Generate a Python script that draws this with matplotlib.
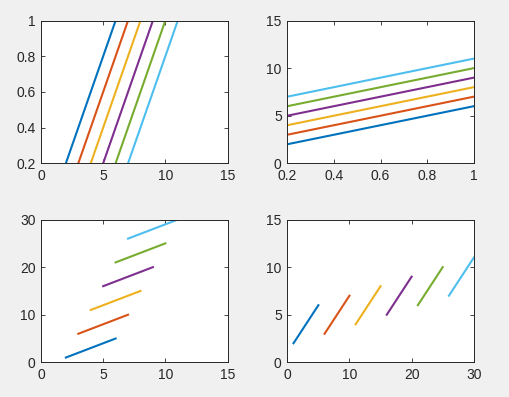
import numpy as np
import matplotlib.pyplot as plt

# data
t = [0.2, 0.4, 0.6, 0.8, 1.0]
Y = np.array([[2, 3, 4, 5, 6, 7],
              [3, 4, 5, 6, 7, 8],
              [4, 5, 6, 7, 8, 9],
              [5, 6, 7, 8, 9, 10],
              [6, 7, 8, 9, 10, 11]])
X = np.array([[1, 6, 11, 16, 21, 26],
              [2, 7, 12, 17, 22, 27],
              [3, 8, 13, 18, 23, 28],
              [4, 9, 14, 19, 24, 29],
              [5, 10, 15, 20, 25, 30]])

colors = ['#0072BD', '#D95319', '#EDB120', '#7E2F8E', '#77AC30', '#4DBEEE']

plt.rcParams['font.family'] = ['Liberation Sans', 'DejaVu Sans']
fig = plt.figure(figsize=(5.1, 3.97), dpi=100, facecolor='#F0F0F0')

L = [0.0804, 0.5633]
B = [0.5887, 0.0874]
W, H = 0.3657, 0.3595

def style(ax):
    ax.tick_params(direction='in', top=True, right=True, length=3, width=0.6,
                   labelsize=10, colors='#262626', pad=4)
    for s in ax.spines.values():
        s.set_color('#262626')
        s.set_linewidth(0.7)

# top left: plot(Y, t)
ax = fig.add_axes([L[0], B[0], W, H])
for k in range(6):
    ax.plot(Y[:, k], t, color=colors[k], lw=1.5)
ax.set_xlim(0, 15)
ax.set_ylim(0.2, 1)
ax.set_xticks([0, 5, 10, 15])
ax.set_yticks([0.2, 0.4, 0.6, 0.8, 1.0])
ax.set_yticklabels(['0.2', '0.4', '0.6', '0.8', '1'])
style(ax)

# top right: plot(t, Y)
ax = fig.add_axes([L[1], B[0], W, H])
for k in range(6):
    ax.plot(t, Y[:, k], color=colors[k], lw=1.5)
ax.set_xlim(0.2, 1)
ax.set_ylim(0, 15)
ax.set_xticks([0.2, 0.4, 0.6, 0.8, 1.0])
ax.set_xticklabels(['0.2', '0.4', '0.6', '0.8', '1'])
ax.set_yticks([0, 5, 10, 15])
style(ax)

# bottom left: plot(Y, X)
ax = fig.add_axes([L[0], B[1], W, H])
for k in range(6):
    ax.plot(Y[:, k], X[:, k], color=colors[k], lw=1.5)
ax.set_xlim(0, 15)
ax.set_ylim(0, 30)
ax.set_xticks([0, 5, 10, 15])
ax.set_yticks([0, 10, 20, 30])
style(ax)

# bottom right: plot(X, Y)
ax = fig.add_axes([L[1], B[1], W, H])
for k in range(6):
    ax.plot(X[:, k], Y[:, k], color=colors[k], lw=1.5)
ax.set_xlim(0, 30)
ax.set_ylim(0, 15)
ax.set_xticks([0, 10, 20, 30])
ax.set_yticks([0, 5, 10, 15])
style(ax)

fig.savefig('out.png', dpi=100, facecolor=fig.get_facecolor())
